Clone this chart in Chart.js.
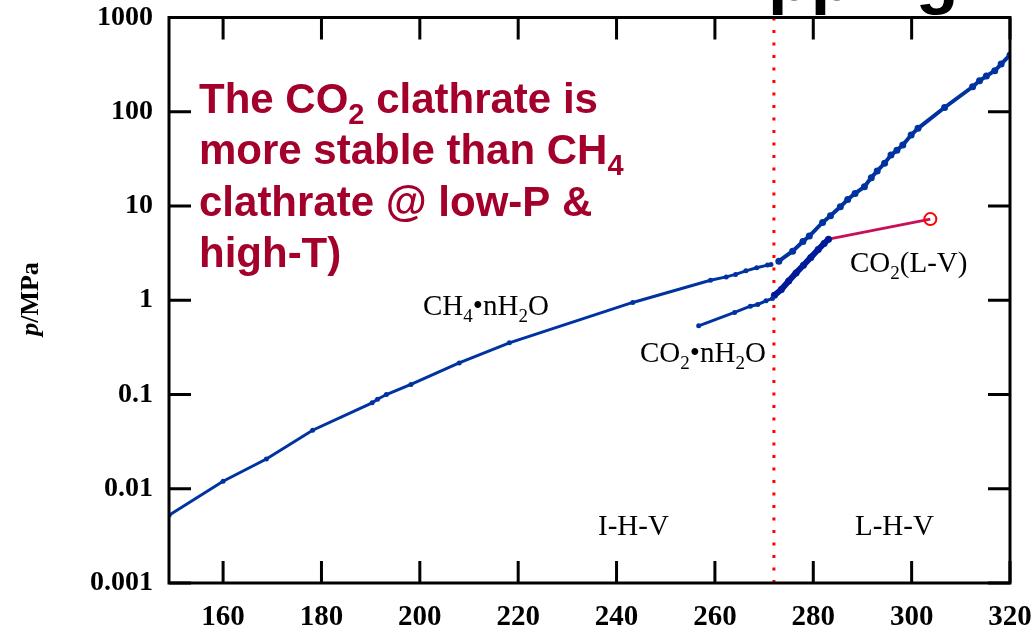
<!DOCTYPE html>
<html>
<head>
<meta charset="utf-8">
<script src="https://cdn.jsdelivr.net/npm/chart.js@4.4.1/dist/chart.umd.min.js"></script>
<style>
html,body{margin:0;padding:0;background:#fff;}
#wrap{position:relative;width:1035px;height:630px;}
canvas{display:block;}
</style>
</head>
<body>
<div id="wrap"><canvas id="c" width="1035" height="630"></canvas></div>
<script>
// ---- data (T in K, p in MPa) ----
const ch4IHV_T = [149, 160, 168.8, 178.2, 190.3, 191.4, 193.2, 198.2, 208.0, 218.2, 243.3, 259.1, 262.3, 264.2, 266.3, 268.5, 270.7, 271.4];
const ch4IHV_p = [0.00524, 0.0120, 0.0207, 0.0418, 0.0815, 0.089, 0.100, 0.128, 0.216, 0.353, 0.948, 1.63, 1.77, 1.88, 2.05, 2.21, 2.36, 2.40];

const ch4LHV_T = [273.0, 275.8, 277.9, 279.2, 281.9, 283.5, 285.5, 287.0, 288.5, 290.4, 291.8, 293.0, 294.5, 295.8, 297.0, 298.2, 299.9, 301.3, 306.7, 312.4, 313.8, 315.2, 316.9, 318.2, 320.0];
const ch4LHV_p = [2.60, 3.32, 4.2, 4.8, 6.7, 7.9, 9.8, 11.7, 13.6, 16.0, 20.0, 23.5, 28.5, 34.7, 39.0, 44.4, 56.6, 66.7, 111, 184, 213, 239, 272, 321, 400];

const co2Low_T = [256.7, 264.0, 267.2, 268.7, 270.4, 271.7];
const co2Low_p = [0.535, 0.742, 0.865, 0.902, 0.986, 1.045];

const co2High_T = [272.1, 273.5, 275.0, 276.5, 278.0, 279.5, 281.0, 282.2, 283.1];
const co2High_p = [1.13, 1.30, 1.60, 1.95, 2.35, 2.85, 3.45, 4.0, 4.45];

const co2LV_T = [283.1, 303.8];
const co2LV_p = [4.45, 7.26];

const iceLine_T = [272, 272];
const iceLine_p = [0.001, 1000];

const xTickVals = [160, 180, 200, 220, 240, 260, 280, 300, 320];
const xTickLabels = ['160', '180', '200', '220', '240', '260', '280', '300', '320'];
const yTickVals = [0.001, 0.01, 0.1, 1, 10, 100, 1000];
const yTickLabels = ['0.001', '0.01', '0.1', '1', '10', '100', '1000'];

const pts = (xs, ys) => xs.map((x, i) => ({x: x, y: ys[i]}));

const SERIF = '"Liberation Serif", "DejaVu Serif", serif';
const SANS = '"Liberation Sans", Arial, sans-serif';
const BLUE = '#0033a0';
const DARKBLUE = '#001a99';
const RED_TXT = '#a3002b';

function drawRich(ctx, x, y, parts, size, subSize, subOff, weight, family, color) {
  ctx.save();
  ctx.fillStyle = color;
  ctx.textBaseline = 'alphabetic';
  ctx.textAlign = 'left';
  let cx = x;
  for (const p of parts) {
    const sub = p.sub;
    const style = p.italic ? 'italic ' : '';
    ctx.font = style + weight + ' ' + (sub ? subSize : size) + 'px ' + family;
    ctx.fillText(p.t, cx, y + (sub ? subOff : 0));
    cx += ctx.measureText(p.t).width;
  }
  ctx.restore();
}

function noOverhang(s) {
  s.paddingTop = 0; s.paddingBottom = 0; s.paddingLeft = 0; s.paddingRight = 0;
}

const decor = {
  id: 'decor',
  afterDatasetsDraw(chart) {
    const ctx = chart.ctx;
    const a = chart.chartArea;
    const xs = chart.scales.x, ys = chart.scales.y;
    ctx.save();
    ctx.strokeStyle = '#000';
    ctx.lineWidth = 3;
    ctx.lineCap = 'butt';
    const TL = 22;
    ctx.beginPath();
    xTickVals.forEach(v => {
      const px = xs.getPixelForValue(v);
      ctx.moveTo(px, a.bottom); ctx.lineTo(px, a.bottom - TL);
      ctx.moveTo(px, a.top); ctx.lineTo(px, a.top + TL);
    });
    yTickVals.forEach(v => {
      const py = ys.getPixelForValue(v);
      ctx.moveTo(a.left, py); ctx.lineTo(a.left + TL, py);
      ctx.moveTo(a.right, py); ctx.lineTo(a.right - TL, py);
    });
    ctx.stroke();
    ctx.strokeRect(a.left, a.top, a.right - a.left, a.bottom - a.top);
    ctx.restore();

    // region / curve labels
    drawRich(ctx, 423, 315, [{t:'CH'},{t:'4',sub:true},{t:'\u2022nH'},{t:'2',sub:true},{t:'O'}], 29, 19, 7, 'normal', SERIF, '#000');
    drawRich(ctx, 640, 362, [{t:'CO'},{t:'2',sub:true},{t:'\u2022nH'},{t:'2',sub:true},{t:'O'}], 29, 19, 7, 'normal', SERIF, '#000');
    drawRich(ctx, 850, 272, [{t:'CO'},{t:'2',sub:true},{t:'(L-V)'}], 29, 19, 7, 'normal', SERIF, '#000');
    drawRich(ctx, 598, 535, [{t:'I-H-V'}], 29, 19, 7, 'normal', SERIF, '#000');
    drawRich(ctx, 855, 535, [{t:'L-H-V'}], 29, 19, 7, 'normal', SERIF, '#000');

    // red annotation
    drawRich(ctx, 199, 112.5, [{t:'The CO'},{t:'2',sub:true},{t:' clathrate is'}], 42, 29, 11, 'bold', SANS, RED_TXT);
    drawRich(ctx, 199, 164, [{t:'more stable than CH'},{t:'4',sub:true}], 42, 29, 11, 'bold', SANS, RED_TXT);
    drawRich(ctx, 199, 215.5, [{t:'clathrate @ low-P &'}], 42, 29, 11, 'bold', SANS, RED_TXT);
    drawRich(ctx, 199, 267, [{t:'high-T)'}], 42, 29, 11, 'bold', SANS, RED_TXT);

    // y axis title
    ctx.save();
    ctx.font = 'italic bold 26px ' + SERIF;
    const w1 = ctx.measureText('p').width;
    ctx.font = 'bold 26px ' + SERIF;
    const w2 = ctx.measureText('/MPa').width;
    ctx.translate(38, 299);
    ctx.rotate(-Math.PI / 2);
    drawRich(ctx, -(w1 + w2) / 2, 0, [{t:'p',italic:true},{t:'/MPa'}], 26, 26, 0, 'bold', SERIF, '#000');
    ctx.restore();

    // cut-off slide heading at the very top
    drawRich(ctx, 768, 0, [{t:'pping'}], 70, 70, 0, 'bold', SANS, '#000');
  }
};

new Chart(document.getElementById('c'), {
  type: 'line',
  data: {
    datasets: [
      { data: pts(iceLine_T, iceLine_p), borderColor: '#ff0000', borderWidth: 3, borderDash: [3, 9.5], pointRadius: 0, order: 10 },
      { data: pts(ch4IHV_T, ch4IHV_p), borderColor: BLUE, backgroundColor: BLUE, borderWidth: 3, pointRadius: 2.5, pointBorderWidth: 0 },
      { data: pts(ch4LHV_T, ch4LHV_p), borderColor: BLUE, backgroundColor: BLUE, borderWidth: 4, pointRadius: 3.5, pointBorderWidth: 0 },
      { data: pts(co2Low_T, co2Low_p), borderColor: BLUE, backgroundColor: BLUE, borderWidth: 3, pointRadius: 2.5, pointBorderWidth: 0 },
      { data: pts(co2High_T, co2High_p), borderColor: DARKBLUE, backgroundColor: DARKBLUE, borderWidth: 6, pointRadius: 3.5, pointBorderWidth: 0 },
      { data: pts(co2LV_T, co2LV_p), borderColor: '#c8105a', backgroundColor: 'rgba(0,0,0,0)', borderWidth: 3,
        pointRadius: [0, 6], pointBorderColor: ['#c8105a', '#ff0000'], pointBorderWidth: 2, pointBackgroundColor: 'rgba(255,255,255,0)' }
    ]
  },
  options: {
    responsive: false,
    animation: false,
    layout: { padding: { left: 0, top: 17.5, right: 25, bottom: 0 } },
    plugins: { legend: { display: false }, tooltip: { enabled: false } },
    elements: { line: { tension: 0 } },
    scales: {
      x: {
        type: 'linear', min: 149, max: 320,
        afterBuildTicks: s => { s.ticks = xTickVals.map(v => ({value: v})); },
        afterFit: s => { s.height = 47; noOverhang(s); },
        ticks: { callback: (v, i) => xTickLabels[i], color: '#000', padding: 17, maxRotation: 0, autoSkip: false,
                 font: { family: SERIF, size: 29, weight: 'bold' } },
        grid: { display: false, drawTicks: false },
        border: { display: false }
      },
      y: {
        type: 'logarithmic', min: 0.001, max: 1000,
        afterBuildTicks: s => { s.ticks = yTickVals.map(v => ({value: v})); },
        afterFit: s => { s.width = 169; noOverhang(s); },
        ticks: { callback: (v, i) => yTickLabels[i], color: '#000', padding: 16, autoSkip: false,
                 font: { family: SERIF, size: 28, weight: 'bold' } },
        grid: { display: false, drawTicks: false },
        border: { display: false }
      }
    }
  },
  plugins: [decor]
});
</script>
</body>
</html>
